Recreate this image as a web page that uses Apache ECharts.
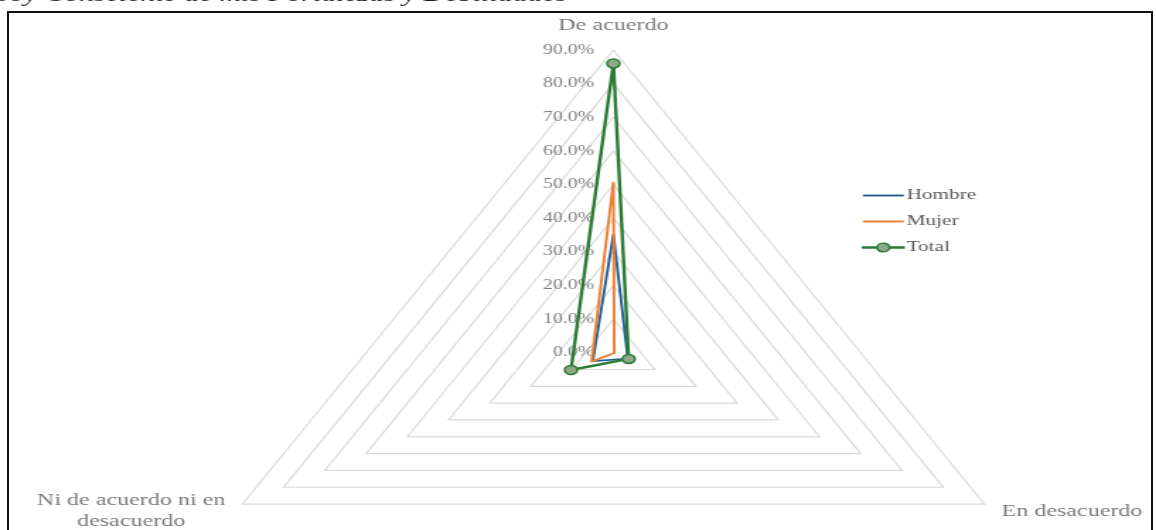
<!DOCTYPE html>
<html>
<head>
<meta charset="utf-8">
<script src="https://cdn.jsdelivr.net/npm/echarts@6/dist/echarts.min.js"></script>
<style>
  html, body { margin: 0; padding: 0; background: #fff; width: 1156px; height: 530px; overflow: hidden; }
  #wrap { position: relative; width: 1156px; height: 530px; overflow: hidden; }
  /* The radar is laid out in a narrower box and widened horizontally */
  #chart { position: absolute; left: 0; top: 0; width: 817px; height: 530px; transform: scaleX(1.415); transform-origin: 0 0; }
  #frame { position: absolute; left: 7px; top: 11px; width: 1146px; height: 540px; border: 2px solid #111; box-sizing: border-box; pointer-events: none; }
</style>
</head>
<body>
<div id="wrap">
  <div id="chart"></div>
  <div id="frame"></div>
</div>
<script>
// Indicators, in drawing order (top, bottom-left, bottom-right)
const categories = ['De acuerdo', 'Ni de acuerdo ni en\ndesacuerdo', 'En desacuerdo'];
const seriesNames = ['Hombre', 'Mujer', 'Total'];
// Percentages per indicator
const hombre = [35.2, 5.0, 3.5];
const mujer = [50.8, 5.3, 0.2];
const total = [86.0, 10.3, 3.7];
// Radial scale
const axisMax = 90;
const axisSteps = 9;

const FONT = '"Liberation Serif", "DejaVu Serif", serif';
const BLUE = '#255e91';
const ORANGE = '#ed7d31';
const GREEN = '#2b7b35';
const MARKER = '#8fa98b';

const lineIcon = 'path://M0,0 H30 V2 H0 Z';
const markerIcon = 'path://M0,4.4 H10.54 A4.5,4.5 0 0,1 19.46,4.4 H30 V5.6 H19.46 A4.5,4.5 0 0,1 10.54,5.6 H0 Z';

// Only the top axis carries the percentage labels
const indicators = categories.map((name, i) => {
  const ind = { name: name, min: 0, max: axisMax };
  if (i > 0) ind.axisLabel = { show: false };
  return ind;
});

const chart = echarts.init(document.getElementById('chart'), null, { renderer: 'canvas' });

chart.setOption({
  animation: false,
  backgroundColor: 'transparent',
  title: {
    text: 'Soy Consciente de mis Fortalezas y Debilidades',
    left: -4,
    top: -15,
    padding: 0,
    textStyle: { fontFamily: FONT, fontStyle: 'italic', fontWeight: 'normal', fontSize: 21, color: '#1a1a1a' }
  },
  legend: {
    orient: 'vertical',
    left: 609,
    top: 188,
    itemWidth: 29,
    itemHeight: 10,
    itemGap: 11,
    padding: 0,
    symbolKeepAspect: true,
    textStyle: { fontFamily: FONT, fontSize: 15, color: '#595959', padding: [0, 0, 0, -3] },
    data: [
      { name: seriesNames[0], icon: lineIcon, itemStyle: { color: BLUE, borderWidth: 0 } },
      { name: seriesNames[1], icon: lineIcon, itemStyle: { color: ORANGE, borderWidth: 0 } },
      { name: seriesNames[2], icon: markerIcon, itemStyle: { color: MARKER, borderColor: GREEN, borderWidth: 1.5 } }
    ]
  },
  radar: {
    center: [433.5, 352.7],
    radius: 302.7,
    startAngle: 90,
    shape: 'polygon',
    splitNumber: axisSteps,
    indicator: indicators,
    axisName: {
      color: '#7a7a7a',
      fontFamily: FONT,
      fontSize: 17,
      formatter: (name) => name.split('\n').map(s => '{c|' + s + '}').join('\n'),
      rich: {
        c: { align: 'center', color: '#7a7a7a', fontFamily: FONT, fontSize: 17, lineHeight: 21 }
      }
    },
    nameGap: 14,
    axisLine: { show: false },
    axisTick: { show: false },
    splitArea: { show: false },
    splitLine: { lineStyle: { color: '#d9d9d9', width: 1.2 } },
    axisLabel: {
      show: true,
      margin: 13.5,
      color: '#7f7f7f',
      fontFamily: FONT,
      fontSize: 14,
      formatter: (v) => v.toFixed(1) + '%'
    }
  },
  series: [{
    type: 'radar',
    silent: true,
    data: [
      {
        name: seriesNames[0], value: hombre, symbol: 'none',
        itemStyle: { color: BLUE }, lineStyle: { color: BLUE, width: 1.9 }
      },
      {
        name: seriesNames[1], value: mujer, symbol: 'none',
        itemStyle: { color: ORANGE }, lineStyle: { color: ORANGE, width: 1.9 }
      },
      {
        name: seriesNames[2], value: total, symbol: 'circle', symbolSize: 9,
        itemStyle: { color: MARKER, borderColor: GREEN, borderWidth: 1.5 },
        lineStyle: { color: GREEN, width: 2.4 }
      }
    ]
  }]
});
</script>
</body>
</html>
